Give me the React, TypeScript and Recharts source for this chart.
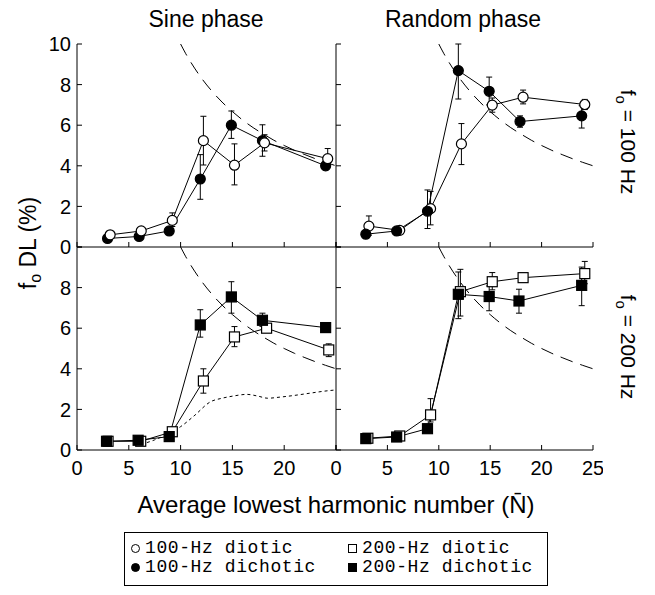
import React from 'react';
import { LineChart, Line, XAxis, YAxis, ErrorBar } from 'recharts';

const SANS = "'Liberation Sans', Arial, Helvetica, sans-serif";
const MONO = "'Liberation Mono', 'Courier New', monospace";

const harmonicTicks = [0, 5, 10, 15, 20, 25];
const dlTicks = [0, 2, 4, 6, 8, 10];

// Sine phase, f0 = 100 Hz
const sine100DioticN = [3.2, 6.2, 9.2, 12.2, 15.2, 18.1, 24.2];
const sine100DioticDL = [0.6, 0.79, 1.31, 5.24, 4.03, 5.13, 4.35];
const sine100DioticLo = [0.1, 0.1, 0.3, 1.2, 0.97, 0.4, 0.3];
const sine100DioticHi = [0.1, 0.1, 0.37, 1.2, 1.05, 0.4, 0.5];
const sine100DichoticN = [2.95, 6.0, 8.9, 11.9, 14.9, 17.9, 24.0];
const sine100DichoticDL = [0.42, 0.52, 0.79, 3.35, 6.0, 5.24, 4.0];
const sine100DichoticLo = [0.1, 0.1, 0.1, 1.0, 0.65, 0.77, 0.2];
const sine100DichoticHi = [0.1, 0.1, 0.1, 1.2, 0.7, 0.78, 0.2];

// Random phase, f0 = 100 Hz
const rand100DioticN = [3.2, 6.2, 9.2, 12.2, 15.2, 18.2, 24.2];
const rand100DioticDL = [1.03, 0.82, 1.89, 5.08, 6.99, 7.38, 7.02];
const rand100DioticLo = [0.45, 0.15, 0.8, 1.02, 0.35, 0.33, 0.25];
const rand100DioticHi = [0.5, 0.15, 0.85, 1.0, 0.35, 0.35, 0.25];
const rand100DichoticN = [2.9, 5.9, 8.9, 11.9, 14.9, 17.9, 23.9];
const rand100DichoticDL = [0.63, 0.79, 1.76, 8.69, 7.67, 6.18, 6.46];
const rand100DichoticLo = [0.1, 0.15, 0.85, 1.4, 0.67, 0.28, 0.6];
const rand100DichoticHi = [0.1, 0.15, 1.05, 1.31, 0.7, 0.28, 0.5];

// Sine phase, f0 = 200 Hz
const sine200DioticN = [3.0, 6.15, 9.2, 12.2, 15.2, 18.3, 24.3];
const sine200DioticDL = [0.43, 0.43, 0.9, 3.4, 5.57, 6.0, 4.93];
const sine200DioticLo = [0.05, 0.05, 0.1, 0.6, 0.48, 0.1, 0.33];
const sine200DioticHi = [0.05, 0.05, 0.1, 0.6, 0.51, 0.1, 0.3];
const sine200DichoticN = [2.85, 5.9, 8.9, 11.9, 14.9, 17.9, 24.0];
const sine200DichoticDL = [0.43, 0.48, 0.66, 6.16, 7.54, 6.39, 6.03];
const sine200DichoticLo = [0.05, 0.05, 0.1, 0.6, 0.8, 0.3, 0.1];
const sine200DichoticHi = [0.05, 0.05, 0.1, 0.75, 0.75, 0.35, 0.1];

// Random phase, f0 = 200 Hz
const rand200DioticN = [3.1, 6.2, 9.2, 12.1, 15.2, 18.2, 24.2];
const rand200DioticDL = [0.58, 0.69, 1.73, 7.8, 8.29, 8.49, 8.69];
const rand200DioticLo = [0.1, 0.1, 0.35, 1.2, 0.4, 0.1, 0.5];
const rand200DioticHi = [0.1, 0.1, 0.8, 1.1, 0.45, 0.1, 0.6];
const rand200DichoticN = [2.9, 5.9, 8.9, 11.9, 14.9, 17.8, 23.9];
const rand200DichoticDL = [0.56, 0.64, 1.05, 7.67, 7.56, 7.34, 8.11];
const rand200DichoticLo = [0.05, 0.05, 0.1, 1.2, 0.7, 0.6, 1.0];
const rand200DichoticHi = [0.05, 0.05, 0.1, 1.1, 0.52, 0.58, 0.9];

// Long-dashed reference curve (same in every panel)
const refCurveN = [10, 10.5, 11, 12, 13, 14, 15, 16, 17, 18, 19, 20, 21, 22, 23, 24, 25];
const refCurveDL = [10, 9.52, 9.09, 8.33, 7.69, 7.14, 6.67, 6.25, 5.88, 5.56, 5.26, 5.0, 4.76, 4.55, 4.35, 4.17, 4.0];

// Short-dashed curve (sine phase, 200 Hz)
const dottedN = [6.2, 7.5, 9, 10, 11.3, 12.9, 14, 15.1, 16.4, 17.5, 18.4, 19.5, 21, 22.5, 23.9, 25];
const dottedDL = [0.28, 0.5, 0.86, 1.15, 1.68, 2.38, 2.55, 2.66, 2.74, 2.65, 2.55, 2.6, 2.69, 2.8, 2.9, 2.96];

// Legend labels
const legendLabels = ['100-Hz diotic', '200-Hz diotic', '100-Hz dichotic', '200-Hz dichotic'];

type Row = { n: number; v: number; err?: [number, number] };
const rows = (n: number[], v: number[], lo?: number[], hi?: number[]): Row[] =>
  n.map((x, i) => ({ n: x, v: v[i], err: lo && hi ? [lo[i], hi[i]] : undefined }));

const makeDot = (shape: 'circle' | 'square', filled: boolean) => (p: any) => {
  const { cx, cy, index } = p;
  if (cx == null || cy == null) return <g key={`e${index}`} />;
  const fill = filled ? '#000' : '#fff';
  if (shape === 'circle')
    return <circle key={`d${index}`} cx={cx} cy={cy} r={5} fill={fill} stroke="#000" strokeWidth={1.2} />;
  return (
    <rect key={`d${index}`} x={cx - 5} y={cy - 5} width={10} height={10} fill={fill} stroke="#000" strokeWidth={1.2} />
  );
};

type Series = { data: Row[]; shape: 'circle' | 'square'; filled: boolean };

const refData = rows(refCurveN, refCurveDL);
const dotData = rows(dottedN, dottedDL);

const ML = 50;
const MT = 10;
const MR = 10;
const MB = 40;

function Panel(props: {
  left: number;
  top: number;
  width: number;
  height: number;
  series: Series[];
  xLabels: number[];
  yLabels: number[];
  dotted?: boolean;
}) {
  const { left, top, width, height, series, xLabels, yLabels, dotted } = props;
  const tickStyle = { fontSize: 20, fill: '#000', fontFamily: SANS };
  const axisStroke = { stroke: '#000', strokeWidth: 1 };
  return (
    <div style={{ position: 'absolute', left: left - ML, top: top - MT }}>
      <LineChart width={width + ML + MR} height={height + MT + MB} margin={{ top: MT, right: MR, bottom: 0, left: 0 }}>
        <XAxis
          xAxisId="x"
          type="number"
          dataKey="n"
          domain={[0, 25]}
          ticks={harmonicTicks}
          allowDataOverflow
          orientation="bottom"
          height={MB}
          tickSize={-5}
          tickMargin={16}
          tick={tickStyle}
          tickFormatter={(v: number) => (xLabels.includes(v) ? String(v) : '')}
          axisLine={axisStroke}
          tickLine={axisStroke}
          interval={0}
        />
        <XAxis
          xAxisId="xt"
          type="number"
          domain={[0, 25]}
          ticks={harmonicTicks}
          allowDataOverflow
          orientation="top"
          height={0}
          tickSize={-5}
          tick={tickStyle}
          tickFormatter={() => ''}
          axisLine={axisStroke}
          tickLine={axisStroke}
          interval={0}
        />
        <YAxis
          yAxisId="y"
          type="number"
          domain={[0, 10]}
          ticks={dlTicks}
          allowDataOverflow
          orientation="left"
          width={ML}
          tickSize={-5}
          tickMargin={11}
          tick={tickStyle}
          tickFormatter={(v: number) => (yLabels.includes(v) ? String(v) : '')}
          axisLine={axisStroke}
          tickLine={axisStroke}
          interval={0}
        />
        <YAxis
          yAxisId="yr"
          type="number"
          domain={[0, 10]}
          ticks={dlTicks}
          allowDataOverflow
          orientation="right"
          width={0}
          tickSize={-5}
          tick={tickStyle}
          tickFormatter={() => ''}
          axisLine={axisStroke}
          tickLine={axisStroke}
          interval={0}
        />
        <Line
          xAxisId="x"
          yAxisId="y"
          data={refData}
          dataKey="v"
          type="monotone"
          stroke="#000"
          strokeWidth={1}
          strokeDasharray="13 8"
          dot={false}
          activeDot={false}
          isAnimationActive={false}
        />
        {dotted && (
          <Line
            xAxisId="x"
            yAxisId="y"
            data={dotData}
            dataKey="v"
            type="monotone"
            stroke="#000"
            strokeWidth={1}
            strokeDasharray="3 3"
            dot={false}
            activeDot={false}
            isAnimationActive={false}
          />
        )}
        {series.map((s, i) => (
          <Line
            key={i}
            xAxisId="x"
            yAxisId="y"
            data={s.data}
            dataKey="v"
            type="linear"
            stroke="#000"
            strokeWidth={1}
            dot={makeDot(s.shape, s.filled)}
            activeDot={false}
            isAnimationActive={false}
          >
            <ErrorBar dataKey="err" width={3} stroke="#000" strokeWidth={1} direction="y" />
          </Line>
        ))}
      </LineChart>
    </div>
  );
}

const X0 = 77;
const X1 = 336;
const X2 = 593;
const Y0 = 44;
const Y1 = 247;
const Y2 = 450;

function LegendItem(props: { x: number; y: number; label: string; shape: 'circle' | 'square'; filled: boolean }) {
  return (
    <div
      style={{
        position: 'absolute',
        left: props.x,
        top: props.y,
        height: 18,
        fontFamily: MONO,
        fontSize: 18,
        lineHeight: '18px',
        letterSpacing: '0.6px',
        whiteSpace: 'pre',
        color: '#000',
      }}
    >
      <span
        style={{
          position: 'absolute',
          left: -14,
          top: 5,
          width: 7,
          height: 7,
          border: '1px solid #000',
          background: props.filled ? '#000' : '#fff',
          borderRadius: props.shape === 'circle' ? '50%' : 0,
        }}
      />
      {props.label}
    </div>
  );
}

export default function App() {
  return (
    <div style={{ position: 'absolute', left: 0, top: 0, width: 655, height: 595, background: '#fff', overflow: 'hidden' }}>
      <Panel
        left={X0}
        top={Y0}
        width={X1 - X0}
        height={Y1 - Y0}
        xLabels={[]}
        yLabels={[0, 2, 4, 6, 8, 10]}
        series={[
          { data: rows(sine100DichoticN, sine100DichoticDL, sine100DichoticLo, sine100DichoticHi), shape: 'circle', filled: true },
          { data: rows(sine100DioticN, sine100DioticDL, sine100DioticLo, sine100DioticHi), shape: 'circle', filled: false },
        ]}
      />
      <Panel
        left={X1}
        top={Y0}
        width={X2 - X1}
        height={Y1 - Y0}
        xLabels={[]}
        yLabels={[]}
        series={[
          { data: rows(rand100DioticN, rand100DioticDL, rand100DioticLo, rand100DioticHi), shape: 'circle', filled: false },
          { data: rows(rand100DichoticN, rand100DichoticDL, rand100DichoticLo, rand100DichoticHi), shape: 'circle', filled: true },
        ]}
      />
      <Panel
        left={X0}
        top={Y1}
        width={X1 - X0}
        height={Y2 - Y1}
        xLabels={[0, 5, 10, 15, 20]}
        yLabels={[0, 2, 4, 6, 8]}
        dotted
        series={[
          { data: rows(sine200DioticN, sine200DioticDL, sine200DioticLo, sine200DioticHi), shape: 'square', filled: false },
          { data: rows(sine200DichoticN, sine200DichoticDL, sine200DichoticLo, sine200DichoticHi), shape: 'square', filled: true },
        ]}
      />
      <Panel
        left={X1}
        top={Y1}
        width={X2 - X1}
        height={Y2 - Y1}
        xLabels={[0, 5, 10, 15, 20, 25]}
        yLabels={[]}
        series={[
          { data: rows(rand200DioticN, rand200DioticDL, rand200DioticLo, rand200DioticHi), shape: 'square', filled: false },
          { data: rows(rand200DichoticN, rand200DichoticDL, rand200DichoticLo, rand200DichoticHi), shape: 'square', filled: true },
        ]}
      />
      <svg width={655} height={595} style={{ position: 'absolute', left: 0, top: 0, pointerEvents: 'none' }}>
        <g fontFamily={SANS} fill="#000">
          <text x={206} y={27} fontSize={23} textAnchor="middle">Sine phase</text>
          <text x={463} y={27} fontSize={23} textAnchor="middle">Random phase</text>
          <text x={336} y={513} fontSize={24} textAnchor="middle">Average lowest harmonic number (N&#772;)</text>
          <text transform="translate(36,243) rotate(-90)" fontSize={23} textAnchor="middle">
            f<tspan fontSize={16} dy={5}>o</tspan>
            <tspan dy={-5}> DL (%)</tspan>
          </text>
          <text transform="translate(621,142) rotate(90)" fontSize={21} textAnchor="middle">
            f<tspan fontSize={15} dy={5}>o</tspan>
            <tspan dy={-5}> = 100 Hz</tspan>
          </text>
          <text transform="translate(621,347) rotate(90)" fontSize={21} textAnchor="middle">
            f<tspan fontSize={15} dy={5}>o</tspan>
            <tspan dy={-5}> = 200 Hz</tspan>
          </text>
        </g>
      </svg>
      <div
        style={{
          position: 'absolute',
          left: 124,
          top: 532,
          width: 424,
          height: 54,
          border: '1px solid #000',
          boxSizing: 'border-box',
        }}
      />
      <LegendItem x={145} y={539} label={legendLabels[0]} shape="circle" filled={false} />
      <LegendItem x={362} y={539} label={legendLabels[1]} shape="square" filled={false} />
      <LegendItem x={145} y={558} label={legendLabels[2]} shape="circle" filled />
      <LegendItem x={362} y={558} label={legendLabels[3]} shape="square" filled />
    </div>
  );
}
